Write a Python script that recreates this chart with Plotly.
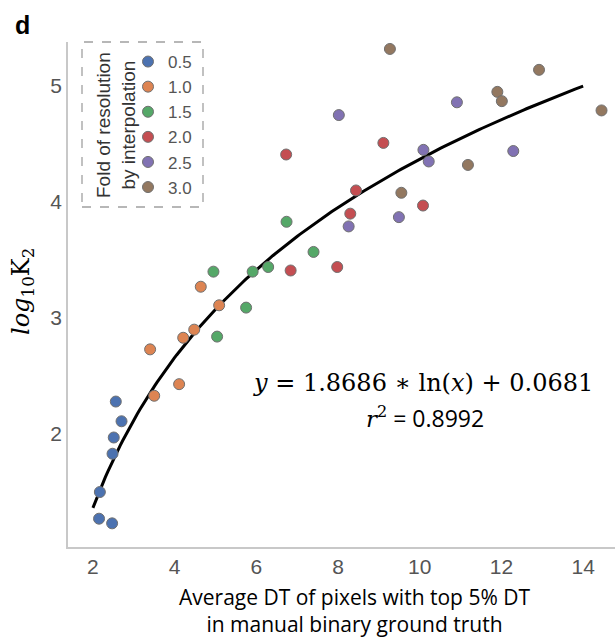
import numpy as np
import plotly.graph_objects as go

# ---- data ----
groups = ["0.5", "1.0", "1.5", "2.0", "2.5", "3.0"]
colors = ["#4C72B0", "#DD8452", "#55A868", "#C44E52", "#8172B3", "#937860"]

x_05 = [2.56, 2.70, 2.51, 2.48, 2.17, 2.15, 2.47]
y_05 = [2.28, 2.11, 1.97, 1.83, 1.50, 1.27, 1.23]

x_10 = [3.40, 3.50, 4.11, 4.21, 4.48, 4.64, 5.09]
y_10 = [2.73, 2.33, 2.43, 2.83, 2.90, 3.27, 3.11]

x_15 = [4.95, 5.91, 6.29, 5.75, 5.04, 6.74, 7.40]
y_15 = [3.40, 3.40, 3.44, 3.09, 2.84, 3.83, 3.57]

x_20 = [6.73, 9.11, 8.44, 8.30, 10.08, 6.84, 7.98]
y_20 = [4.41, 4.51, 4.10, 3.90, 3.97, 3.41, 3.44]

x_25 = [8.02, 10.09, 10.22, 9.49, 8.26, 10.91, 12.29]
y_25 = [4.75, 4.45, 4.35, 3.87, 3.79, 4.86, 4.44]

x_30 = [9.27, 9.55, 12.92, 11.90, 12.01, 14.45, 11.18]
y_30 = [5.32, 4.08, 5.14, 4.95, 4.87, 4.79, 4.32]

series_x = [x_05, x_10, x_15, x_20, x_25, x_30]
series_y = [y_05, y_10, y_15, y_20, y_25, y_30]

# fitted curve y = A*ln(x) + B, drawn over x in [2, 14]
fit_a = 1.8686
fit_b = 0.0681
fit_r2 = 0.8992
fit_xmin, fit_xmax = 2, 14

x_ticks = [2, 4, 6, 8, 10, 12, 14]
y_ticks = [2, 3, 4, 5]

fig = go.Figure()

fx = np.linspace(fit_xmin, fit_xmax, 200)
fig.add_trace(go.Scatter(x=fx, y=fit_a * np.log(fx) + fit_b, mode="lines",
                         line=dict(color="black", width=3), showlegend=False,
                         hoverinfo="skip"))

for g, c, xs, ys in zip(groups, colors, series_x, series_y):
    fig.add_trace(go.Scatter(x=xs, y=ys, mode="markers", name=g,
                             marker=dict(color=c, size=11,
                                         line=dict(color="#707070", width=1))))

axis_col = "#c8c8c8"
tick_font = dict(family="Liberation Sans", size=21, color="#555555")

L, T, W, H = 68, 42, 547, 505


def px(x):
    return (x - L) / W


def py(y):
    return 1 - (y - T) / H


fig.update_layout(
    width=615, height=638,
    margin=dict(l=68, r=0, t=42, b=91),
    plot_bgcolor="white", paper_bgcolor="white",
    xaxis=dict(range=[1.39, 14.78], tickvals=x_ticks, showgrid=False,
               zeroline=False, showline=True, linecolor=axis_col, linewidth=1.5,
               ticks="", tickfont=tick_font),
    yaxis=dict(range=[1.026, 5.38], tickvals=y_ticks, showgrid=False,
               zeroline=False, showline=True, linecolor=axis_col, linewidth=1.5,
               ticks="", tickfont=tick_font),
    legend=dict(x=px(128), y=py(44), xanchor="left", yanchor="top",
                bgcolor="rgba(0,0,0,0)", borderwidth=0,
                font=dict(family="Liberation Sans", size=17, color="#555555"),
                itemwidth=30),
    showlegend=True,
)

# dashed legend box
fig.add_shape(type="rect", xref="paper", yref="paper",
              x0=px(82), x1=px(203), y0=py(207), y1=py(42),
              line=dict(color="#a0a0a0", width=1.3, dash="dash"))

common = dict(xref="paper", yref="paper", showarrow=False,
              xanchor="center", yanchor="middle")

# rotated legend title
fig.add_annotation(x=px(116), y=py(125),
                   text="Fold of resolution<br>by interpolation", textangle=-90,
                   font=dict(family="Liberation Sans", size=19, color="#333333"),
                   **common)

# panel letter
fig.add_annotation(x=px(22), y=py(25), text="<b>d</b>",
                   font=dict(family="Liberation Sans", size=25, color="black"),
                   **common)

# y axis title
fig.add_annotation(x=px(22), y=py(292),
                   text="<i>log</i><sub>10</sub>K<sub>2</sub>", textangle=-90,
                   font=dict(family="DejaVu Serif", size=24, color="black"),
                   **common)

# x axis title
fig.add_annotation(x=px(354), y=py(610),
                   text="Average DT of pixels with top 5% DT<br>in manual binary ground truth",
                   font=dict(family="Open Sans", size=21, color="black"),
                   **common)

# equation
fig.add_annotation(x=px(423), y=py(383),
                   text=f"<i>y</i> = {fit_a:.4f} ∗ ln(<i>x</i>) + {fit_b:.4f}",
                   font=dict(family="DejaVu Serif", size=24, color="black"),
                   **common)
fig.add_annotation(x=px(425), y=py(418),
                   text=f"<span style='font-family:DejaVu Serif'><i>r</i><sup>2</sup></span> = {fit_r2:.4f}",
                   font=dict(family="Open Sans", size=23, color="black"),
                   **common)

fig.write_html("out.html")
